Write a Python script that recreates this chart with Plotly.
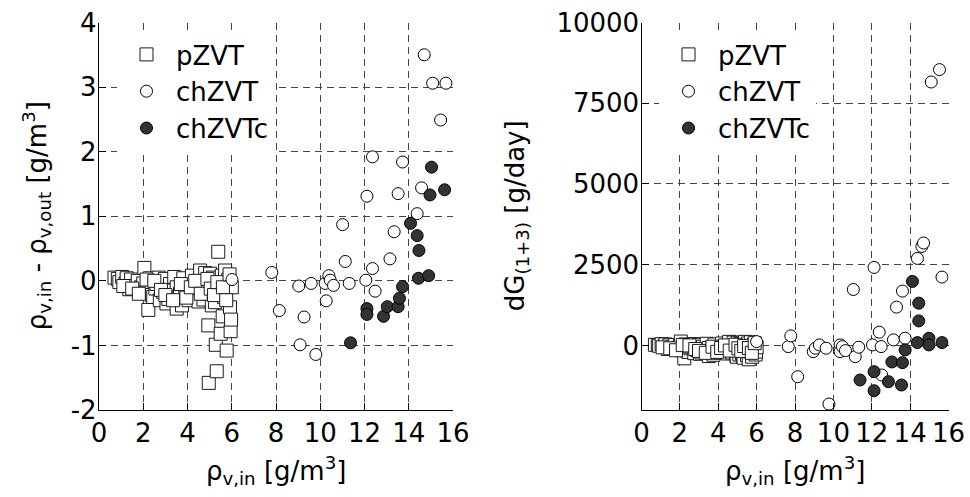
import plotly.graph_objects as go

# ---------------- data ----------------
# pZVT runs: inlet vapour density, density drop, and mass gain
pzvt_rho_in = [0.70, 0.85, 0.92, 1.05, 1.20, 1.25, 1.37, 1.45, 1.60, 1.75,
               1.90, 2.00, 2.05, 2.10, 2.23, 2.30, 2.40, 2.45, 2.55, 2.60,
               2.70, 2.75, 2.85, 2.90, 2.98, 3.05, 3.13, 3.21, 3.30, 3.40,
               3.51, 3.51, 3.60, 3.66, 3.75, 3.81, 3.90, 3.99, 4.05, 4.11,
               4.20, 4.30, 4.40, 4.50, 4.57, 4.64, 4.72, 4.80, 4.85, 4.94,
               4.96, 4.99, 5.02, 5.10, 5.15, 5.24, 5.24, 5.28, 5.32, 5.39,
               5.40, 5.47, 5.50, 5.55, 5.59, 5.65, 5.70, 5.77, 5.80, 5.85,
               5.92, 5.95, 5.97, 6.00,
               1.10, 1.50, 1.80, 2.15, 2.50, 2.80, 3.00, 3.35, 3.70, 3.95,
               4.15, 4.35, 4.60, 4.90, 5.05, 5.20, 5.35, 5.60, 5.75, 5.90]
pzvt_drho = [0.05, 0.03, -0.02, 0.06, -0.04, 0.04, -0.13, 0.02, -0.08, 0.00,
             -0.10, -0.04, 0.20, -0.18, -0.45, 0.04, -0.22, -0.25, -0.12, -0.05,
             0.05, -0.30, -0.08, -0.17, 0.03, -0.35, -0.28, -0.05, -0.15, 0.06,
             -0.10, -0.43, -0.25, -0.20, -0.38, 0.04, -0.12, -0.08, -0.30, -0.25,
             0.08, -0.18, -0.02, -0.32, 0.16, -0.07, -0.29, 0.12, -0.15, -0.69,
             -1.58, -0.20, 0.11, -0.38, 0.05, -0.05, -0.33, -0.99, -1.40, 0.45,
             -0.12, -0.17, -0.82, 0.08, -0.55, -0.25, 0.16, -1.08, -0.05, 0.02,
             -0.41, -0.78, -0.60, -0.10,
             -0.08, -0.12, -0.20, 0.02, 0.00, -0.14, -0.22, -0.30, -0.05, -0.26,
             -0.10, 0.00, -0.20, 0.03, -0.12, -0.22, -0.02, -0.10, -0.30, 0.10]
pzvt_dG = [20, 10, -10, 40, -30, 30, -110, 0, -60, 10,
           -80, -20, 120, -150, -400, 30, -180, -200, -90, -40,
           40, -240, -70, -140, 20, -260, -220, -40, -120, 50,
           -80, -330, -190, -160, -290, 30, -100, -60, -230, -190,
           60, -140, -10, -250, 110, -50, -220, 90, -120, -300,
           -350, -150, 80, -280, 40, -40, -250, -330, -380, 110,
           -90, -130, -300, 60, -430, -190, 100, -350, -30, 20,
           -240, -280, -190, -60,
           -60, -90, -150, 10, 0, -110, -170, -230, -40, -200,
           -80, 0, -160, 20, -90, -170, -20, -80, -230, 70]

# chZVT runs (density-drop panel)
chzvt_rho_in = [6.01, 7.81, 8.15, 9.03, 9.09, 9.27, 9.59, 9.80, 10.22, 10.27,
                10.39, 10.45, 10.60, 11.01, 11.13, 11.31, 12.06, 12.11, 12.36, 12.36,
                12.48, 13.15, 13.34, 13.52, 13.72, 14.38, 14.58, 14.70, 15.08, 15.44,
                15.68]
chzvt_drho = [0.02, 0.13, -0.46, -0.08, -0.99, -0.56, -0.04, -1.14, -0.04, -0.31,
              0.08, 0.01, -0.07, 0.87, 0.30, -0.04, 0.01, 1.31, 1.92, 0.19,
              -0.16, 0.34, 0.76, 1.35, 1.84, 1.04, 1.44, 3.50, 3.06, 2.49,
              3.06]

# chZVT runs (mass-gain panel)
chzvt_rho_in_g = [6.00, 7.65, 7.78, 8.14, 8.95, 9.06, 9.27, 9.62, 9.77, 10.35,
                  10.35, 10.47, 10.63, 11.04, 11.14, 11.32, 12.04, 12.12, 12.39, 12.49,
                  12.52, 13.13, 13.29, 13.60, 13.74, 14.38, 14.61, 14.70, 15.10, 15.53,
                  15.66]
chzvt_dG = [118, -37, 295, -968, -192, -87, 16, -87, -1816, 16,
            -192, -37, -161, 1732, -348, -56, 16, 2415, 410, -37,
            -916, 171, 1186, 1682, 223, 2694, 3066, 3172, 8157, 8541,
            2116]

# chZVTc runs (density-drop panel)
chzvtc_rho_in = [11.37, 12.11, 12.11, 12.86, 13.03, 13.52, 13.58, 13.72, 14.08, 14.38,
                 14.44, 14.46, 14.90, 14.96, 15.03, 15.62]
chzvtc_drho = [-0.96, -0.43, -0.52, -0.55, -0.40, -0.40, -0.27, -0.09, 0.89, 0.70,
               0.04, 0.47, 0.08, 1.33, 1.76, 1.41]

# chZVTc runs (mass-gain panel)
chzvtc_rho_in_g = [11.39, 12.12, 12.12, 12.87, 13.05, 13.55, 13.60, 13.74, 14.12, 14.38,
                   14.45, 14.45, 14.98, 14.98, 15.66]
chzvtc_dG = [-1071, -813, -1403, -1123, -512, -1226, -534, -140, 1981, 87,
             1309, 760, 223, 16, 87]

x_ticks = [0, 2, 4, 6, 8, 10, 12, 14, 16]
drho_ticks = [-2, -1, 0, 1, 2, 3, 4]
dG_ticks = [0, 2500, 5000, 7500, 10000]

# ---------------- styling ----------------
FONT = "DejaVu Sans"
FS = 26
W, H = 970, 497

sq_style = dict(symbol="square", size=13, color="white",
                line=dict(color="#1a1a1a", width=1))
open_style = dict(symbol="circle", size=12, color="white",
                  line=dict(color="#000000", width=1))
fill_style = dict(symbol="circle", size=12, color="#333333",
                  line=dict(color="#000000", width=1))

fig = go.Figure()

# left panel: density drop
fig.add_trace(go.Scatter(x=pzvt_rho_in, y=pzvt_drho, mode="markers", name="pZVT",
                         marker=sq_style, xaxis="x", yaxis="y", legend="legend"))
fig.add_trace(go.Scatter(x=chzvt_rho_in, y=chzvt_drho, mode="markers", name="chZVT",
                         marker=open_style, xaxis="x", yaxis="y", legend="legend"))
fig.add_trace(go.Scatter(x=chzvtc_rho_in, y=chzvtc_drho, mode="markers", name="chZVTc",
                         marker=fill_style, xaxis="x", yaxis="y", legend="legend"))

# right panel: mass gain
fig.add_trace(go.Scatter(x=pzvt_rho_in, y=pzvt_dG, mode="markers", name="pZVT",
                         marker=sq_style, xaxis="x2", yaxis="y2", legend="legend2"))
fig.add_trace(go.Scatter(x=chzvt_rho_in_g, y=chzvt_dG, mode="markers", name="chZVT",
                         marker=open_style, xaxis="x2", yaxis="y2", legend="legend2"))
fig.add_trace(go.Scatter(x=chzvtc_rho_in_g, y=chzvtc_dG, mode="markers", name="chZVTc",
                         marker=fill_style, xaxis="x2", yaxis="y2", legend="legend2"))


def px_x(p):
    return p / W


def px_y(p):
    return 1 - p / H


common_axis = dict(
    showline=True, linecolor="black", linewidth=1.3, mirror=False,
    ticks="inside", ticklen=7, tickcolor="black", tickwidth=1,
    showgrid=True, gridcolor="#444444", gridwidth=1, griddash="7px,5px",
    zeroline=False, automargin=False,
    tickfont=dict(family=FONT, size=FS, color="black"),
)

xdom1 = [px_x(99), px_x(453)]
xdom2 = [px_x(641.5), px_x(948.5)]
ydom = [px_y(410), px_y(22.5)]

legend_common = dict(xanchor="left", yanchor="top", bgcolor="white", borderwidth=0,
                     itemwidth=49, font=dict(family=FONT, size=FS, color="black"))

fig.update_layout(
    width=W, height=H,
    margin=dict(l=0, r=0, t=0, b=0),
    paper_bgcolor="white", plot_bgcolor="white",
    font=dict(family=FONT, size=FS, color="black"),
    xaxis=dict(domain=xdom1, range=[0, 16], tickvals=x_ticks,
               ticktext=[str(v) for v in x_ticks], anchor="y", **common_axis),
    yaxis=dict(domain=ydom, range=[-2, 4], tickvals=drho_ticks,
               ticktext=[str(v) for v in drho_ticks], anchor="x",
               ticklabelstandoff=-4, **common_axis),
    xaxis2=dict(domain=xdom2, range=[0, 16], tickvals=x_ticks,
                ticktext=[str(v) for v in x_ticks], anchor="y2", **common_axis),
    yaxis2=dict(domain=ydom, range=[-2000, 10000], tickvals=dG_ticks,
                ticktext=[str(v) for v in dG_ticks], anchor="x2",
                ticklabelstandoff=-4, **common_axis),
    legend=dict(x=px_x(117), y=px_y(31), **legend_common),
    legend2=dict(x=px_x(659), y=px_y(31), **legend_common),
    showlegend=True,
)

# axis titles
title_font = dict(family=FONT, size=FS, color="black")
fig.add_annotation(text="ρ<sub>v,in</sub> - ρ<sub>v,out</sub> [g/m<sup>3</sup>]",
                   x=px_x(36), y=(ydom[0] + ydom[1]) / 2, xref="paper", yref="paper",
                   textangle=-90, showarrow=False, font=title_font,
                   xanchor="center", yanchor="middle")
fig.add_annotation(text="dG<sub>(1+3)</sub> [g/day]",
                   x=px_x(516), y=(ydom[0] + ydom[1]) / 2, xref="paper", yref="paper",
                   textangle=-90, showarrow=False, font=title_font,
                   xanchor="center", yanchor="middle")
fig.add_annotation(text="ρ<sub>v,in</sub> [g/m<sup>3</sup>]",
                   x=(xdom1[0] + xdom1[1]) / 2, y=px_y(470), xref="paper", yref="paper",
                   showarrow=False, font=title_font, xanchor="center", yanchor="middle")
fig.add_annotation(text="ρ<sub>v,in</sub> [g/m<sup>3</sup>]",
                   x=(xdom2[0] + xdom2[1]) / 2, y=px_y(470), xref="paper", yref="paper",
                   showarrow=False, font=title_font, xanchor="center", yanchor="middle")

fig.write_html("out.html")
